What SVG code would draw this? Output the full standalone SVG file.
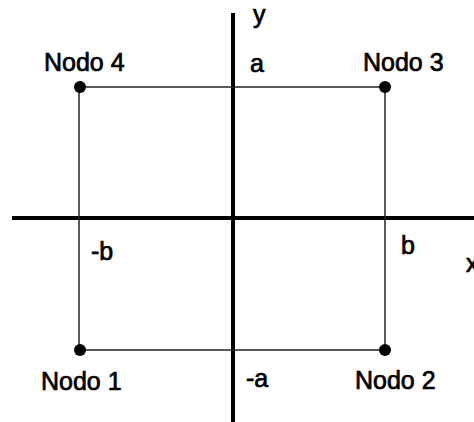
<svg xmlns="http://www.w3.org/2000/svg" width="474" height="422" viewBox="0 0 474 422">
<style>
.axis{stroke:#000;stroke-width:4;fill:none}
.edge{stroke:#222;stroke-width:1.5;fill:none}
.dot{fill:#000}
text{font-family:"Liberation Sans",Arial,sans-serif;font-size:25px;fill:#000;stroke:#000;stroke-width:0.7}
</style>
<rect width="474" height="422" fill="#fff"/>
<g id="connectors">
<line class="axis" x1="233" y1="13" x2="233" y2="422"/>
<line class="axis" x1="12" y1="218" x2="474" y2="218"/>
<line class="edge" x1="79" y1="87" x2="385" y2="87"/>
<line class="edge" x1="79" y1="350" x2="385" y2="350"/>
<line class="edge" x1="79" y1="87" x2="79" y2="350"/>
<line class="edge" x1="385" y1="87" x2="385" y2="350"/>
</g>
<g id="node4"><circle class="dot" cx="80" cy="87" r="6"/><text x="44" y="71">Nodo 4</text></g>
<g id="node3"><circle class="dot" cx="385" cy="87" r="6"/><text x="363" y="71">Nodo 3</text></g>
<g id="node1"><circle class="dot" cx="80" cy="350" r="6"/><text x="41" y="390">Nodo 1</text></g>
<g id="node2"><circle class="dot" cx="385" cy="350" r="6"/><text x="355" y="389">Nodo 2</text></g>
<g id="labels">
<text x="253" y="23">y</text>
<text x="250" y="72">a</text>
<text x="91" y="260">-b</text>
<text x="401" y="254">b</text>
<text x="466" y="272">x</text>
<text x="246" y="387">-a</text>
</g>
</svg>
